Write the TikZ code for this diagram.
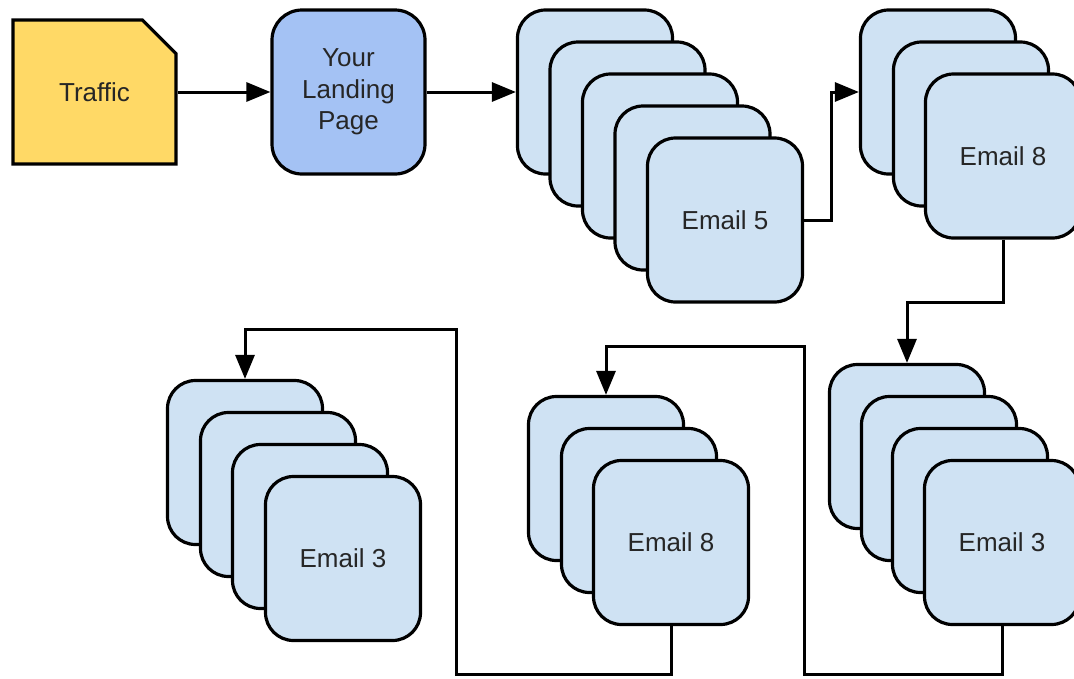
\documentclass[tikz,border=0pt]{standalone}
\usepackage{fontspec}
\setmainfont{Liberation Sans}
\usetikzlibrary{arrows.meta,shapes.misc}
\definecolor{trafficyellow}{HTML}{FFD966}
\definecolor{landingblue}{HTML}{A4C2F4}
\definecolor{cardblue}{HTML}{CFE2F3}
\definecolor{txt}{HTML}{262626}
\begin{document}
\begin{tikzpicture}[x=1pt,y=-1pt,
  lbl/.style={text=txt, font=\fontsize{26}{31.5}\selectfont},
  card/.style={lbl, draw=black, fill=cardblue, line width=3.2pt, rounded corners=28pt,
    minimum width=155pt, minimum height=164pt, inner sep=0pt},
  conn/.style={draw=black, line width=3pt},
  arr/.style={conn, -{Triangle[length=24pt,width=19pt]}}]
\clip (0,0) rectangle (1074,678);
\useasboundingbox (0,0) rectangle (1074,678);

% Traffic
\node[lbl, chamfered rectangle, chamfered rectangle corners=north east,
  chamfered rectangle sep=24pt, draw=black, fill=trafficyellow, line width=3.2pt,
  minimum width=163pt, minimum height=144pt, inner sep=0pt] (traffic) at (94.5,92) {\raisebox{-6pt}{Traffic}};

% Landing page
\node[lbl, draw=black, fill=landingblue, line width=3.2pt, rounded corners=30pt,
  minimum width=153pt, minimum height=164pt, inner sep=0pt, align=center] (landing) at (348.5,92) {Your\\Landing\\Page};

% Stack 1
\node[card] (s1a) at (595,92) {};
\node[card] (s1b) at (627.5,124) {};
\node[card] (s1c) at (660,156) {};
\node[card] (s1d) at (692.5,188) {};
\node[card] (s1e) at (725,220) {Email 5};

% Stack 2
\node[card] (s2a) at (938,92) {};
\node[card] (s2b) at (971,124) {};
\node[card] (s2c) at (1003,156) {Email 8};

% Stack 3
\node[card] (s3a) at (907,446.5) {};
\node[card] (s3b) at (939,478.5) {};
\node[card] (s3c) at (970,510.5) {};
\node[card] (s3d) at (1002,542.5) {Email 3};

% Stack 4
\node[card] (s4a) at (606,478.5) {};
\node[card] (s4b) at (639,510.5) {};
\node[card] (s4c) at (671,542.5) {Email 8};

% Stack 5
\node[card] (s5a) at (245,462.5) {};
\node[card] (s5b) at (278,494.5) {};
\node[card] (s5c) at (310,526.5) {};
\node[card] (s5d) at (343,558.5) {Email 3};

% Connectors
\draw[arr] (traffic.east) -- (landing.west);
\draw[arr] (landing.east) -- (s1a.west);
\draw[arr] (s1e.east) -- ++(27,0) |- (s2a.west);
\draw[arr] (s2c.south) -- ++(0,63) -| (s3a.north);
\draw[arr] (s3d.south) -- ++(0,48) -- ++(-198,0) -- ++(0,-328) -| (s4a.north);
\draw[arr] (s4c.south) -- ++(0,48) -- ++(-215,0) -- ++(0,-345) -| (s5a.north);
\end{tikzpicture}
\end{document}
